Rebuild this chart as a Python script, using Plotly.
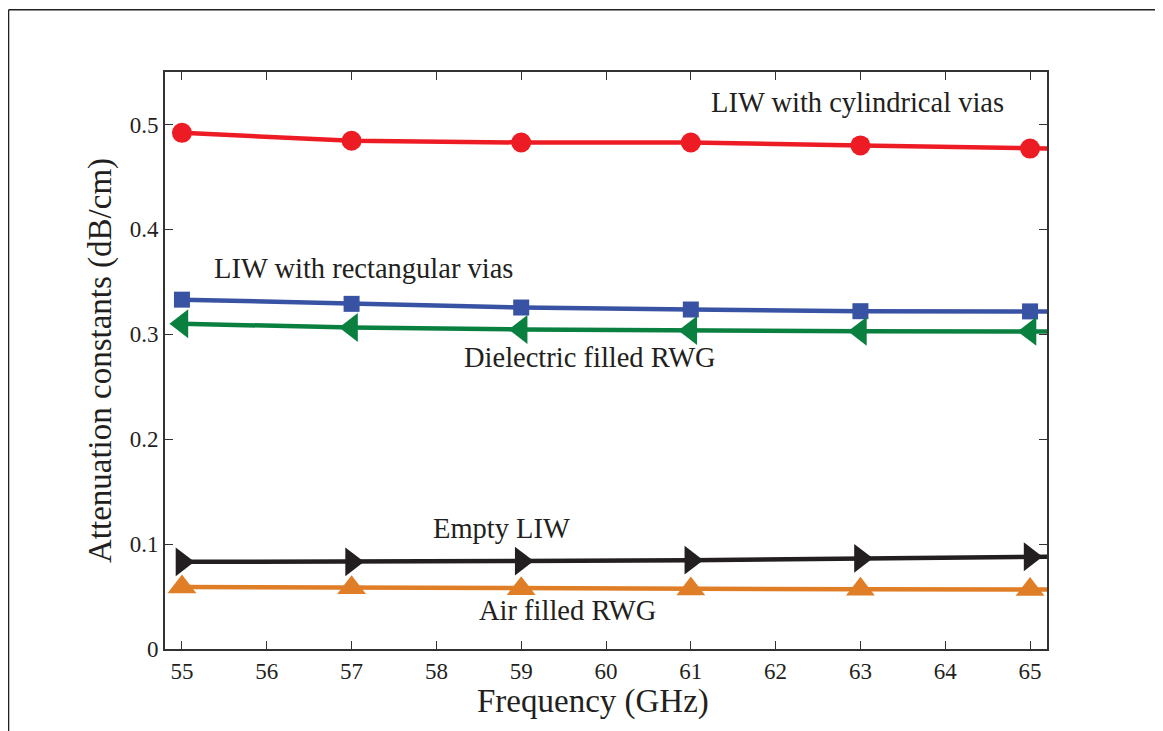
import plotly.graph_objects as go

freq = [55, 57, 59, 61, 63, 65, 67]
cyl = [0.492, 0.4845, 0.4828, 0.4828, 0.480, 0.477, 0.4745]
rect = [0.333, 0.329, 0.3255, 0.3236, 0.3220, 0.3218, 0.3216]
diel = [0.310, 0.3065, 0.3046, 0.3036, 0.3028, 0.3027, 0.3026]
empty = [0.0831, 0.0831, 0.0838, 0.0847, 0.0864, 0.0879, 0.0894]
air = [0.0590, 0.0583, 0.0575, 0.0572, 0.0570, 0.0568, 0.0566]

xticks = list(range(55, 66))
yticks = [0, 0.1, 0.2, 0.3, 0.4, 0.5]

series = [
    (cyl, "#ED1C24", "circle", 20, "LIW with cylindrical vias"),
    (rect, "#3953A4", "square", 16, "LIW with rectangular vias"),
    (diel, "#0A8040", "triangle-left", 25, "Dielectric filled RWG"),
    (empty, "#231F20", "triangle-right", 25, "Empty LIW"),
    (air, "#E07E27", "triangle-up", 25, "Air filled RWG"),
]

fig = go.Figure()
for vals, col, sym, sz, name in series:
    sizes = [sz] * 6 + [0]
    fig.add_trace(go.Scatter(
        x=freq, y=vals, mode="lines+markers", name=name,
        line=dict(color=col, width=4.5),
        marker=dict(symbol=sym, size=sizes, color=col, opacity=1, line=dict(width=0)),
        cliponaxis=True, showlegend=False))

font_family = "Liberation Serif"
labels = [
    ("LIW with cylindrical vias", 62.97, 0.5207),
    ("LIW with rectangular vias", 57.14, 0.3627),
    ("Dielectric filled RWG", 59.81, 0.278),
    ("Empty LIW", 58.77, 0.1152),
    ("Air filled RWG", 59.55, 0.0371),
]
for txt, xx, yy in labels:
    fig.add_annotation(x=xx, y=yy, text=txt, showarrow=False,
                       font=dict(family=font_family, size=28.5, color="#231F20"),
                       xanchor="center", yanchor="middle")

# x axis title as annotation (offset as in the reference)
fig.add_annotation(xref="paper", yref="paper", x=0.485, y=-0.091, text="Frequency (GHz)",
                   showarrow=False, xanchor="center", yanchor="middle",
                   font=dict(family=font_family, size=33, color="#231F20"))

# outer frame lines
fig.add_shape(type="line", xref="paper", yref="paper", x0=-0.1774, x1=1.2, y0=1.108, y1=1.108,
              line=dict(color="#231F20", width=1.5))
fig.add_shape(type="line", xref="paper", yref="paper", x0=-0.1774, x1=-0.1774, y0=-0.3, y1=1.108,
              line=dict(color="#231F20", width=1.5))

axis_common = dict(
    showline=True, linecolor="#333333", linewidth=2, mirror="ticks",
    ticks="inside", ticklen=8, tickwidth=1.2, tickcolor="#333333",
    showgrid=False, zeroline=False,
    tickfont=dict(family=font_family, size=23, color="#231F20"),
)

fig.update_layout(
    width=1163, height=731,
    margin=dict(l=157, r=124, t=64, b=90),
    paper_bgcolor="white", plot_bgcolor="white",
    xaxis=dict(range=[54.8, 65.2], tickvals=xticks, **axis_common),
    yaxis=dict(range=[0, 0.55], tickvals=yticks, ticktext=["0", "0.1", "0.2", "0.3", "0.4", "0.5"],
               title=dict(text="Attenuation constants (dB/cm)", font=dict(family=font_family, size=33, color="#231F20"), standoff=8),
               **axis_common),
)

fig.write_html("out.html")
